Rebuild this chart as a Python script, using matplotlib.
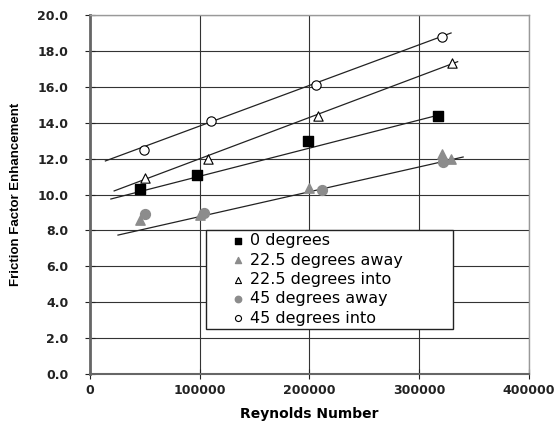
import numpy as np
import matplotlib.pyplot as plt

plt.rcParams['font.family'] = ['DejaVu Sans']

# Data
re_0 = [46000, 97500, 198700, 317000]
ff_0 = [10.3, 11.1, 13.0, 14.4]

re_22a = [45600, 100000, 200000, 321000, 329000]
ff_22a = [8.6, 8.85, 10.35, 12.25, 12.0]

re_22i = [50000, 107500, 208000, 330000]
ff_22i = [10.9, 12.0, 14.4, 17.3]

re_45a = [50000, 104000, 211000, 322000]
ff_45a = [8.9, 8.95, 10.25, 11.8]

re_45i = [49000, 110000, 206000, 321000]
ff_45i = [12.5, 14.1, 16.1, 18.8]

# trend lines (start, end)
trend_x = [[19000, 314000], [25500, 340000], [22000, 335000], [14000, 329000]]
trend_y = [[9.75, 14.37], [7.74, 12.09], [10.2, 17.4], [11.87, 19.0]]

fig = plt.figure(figsize=(5.57, 4.23), dpi=100)
ax = fig.add_axes([0.1616, 0.1158, 0.7881, 0.8487])

ax.grid(True, color='#333333', linewidth=0.8, zorder=0)
ax.set_axisbelow(True)

for tx, ty in zip(trend_x, trend_y):
    ax.plot(tx, ty, color='#222222', linewidth=0.9, zorder=2)

gray = '#8c8c8c'
ax.scatter(re_0, ff_0, marker='s', s=45, color='black', zorder=3, label='0 degrees')
ax.scatter(re_22a, ff_22a, marker='^', s=45, color=gray, zorder=3, label='22.5 degrees away')
ax.scatter(re_22i, ff_22i, marker='^', s=45, facecolor='white', edgecolor='black',
           linewidth=0.8, zorder=3, label='22.5 degrees into')
ax.scatter(re_45a, ff_45a, marker='o', s=50, color=gray, zorder=3, label='45 degrees away')
ax.scatter(re_45i, ff_45i, marker='o', s=45, facecolor='white', edgecolor='black',
           linewidth=0.8, zorder=3, label='45 degrees into')

ax.set_xlim(0, 400000)
ax.set_ylim(0, 20)
ax.set_xticks(np.arange(0, 400001, 100000))
ax.set_yticks(np.arange(0, 20.1, 2))
ax.set_xticklabels(['0', '100000', '200000', '300000', '400000'])
ax.set_yticklabels(['%.1f' % v for v in np.arange(0, 20.1, 2)])
ax.tick_params(axis='both', labelsize=9, direction='inout', length=7, width=0.8,
               colors='#222222')
ax.tick_params(axis='x', pad=4)
ax.tick_params(axis='y', pad=12)
for lbl in ax.get_xticklabels() + ax.get_yticklabels():
    lbl.set_fontweight('bold')

for s in ['top', 'right']:
    ax.spines[s].set_color('#999999')
    ax.spines[s].set_linewidth(1.0)
ax.spines['left'].set_color('#666666')
ax.spines['left'].set_linewidth(2.0)
ax.spines['bottom'].set_color('#666666')
ax.spines['bottom'].set_linewidth(1.5)

ax.set_xlabel('Reynolds Number', fontsize=10, fontweight='bold', labelpad=7)
ax.set_ylabel('Friction Factor Enhancement', fontsize=9.5, fontweight='bold',
              family='Liberation Sans', labelpad=11)

# legend box spans roughly 206..453 px wide, 230..330 px tall
leg = ax.legend(loc='upper left', bbox_to_anchor=(0.264, 0.0, 0.563, 0.401),
                mode='expand', fontsize=11.5,
                frameon=True, fancybox=False, framealpha=1, edgecolor='#222222',
                handletextpad=-1.05, borderpad=0.2, labelspacing=0.27,
                handlelength=3.6, markerscale=0.65, borderaxespad=0)
leg.get_frame().set_linewidth(1.0)
leg.set_zorder(5)

plt.savefig('out.png', dpi=100)
